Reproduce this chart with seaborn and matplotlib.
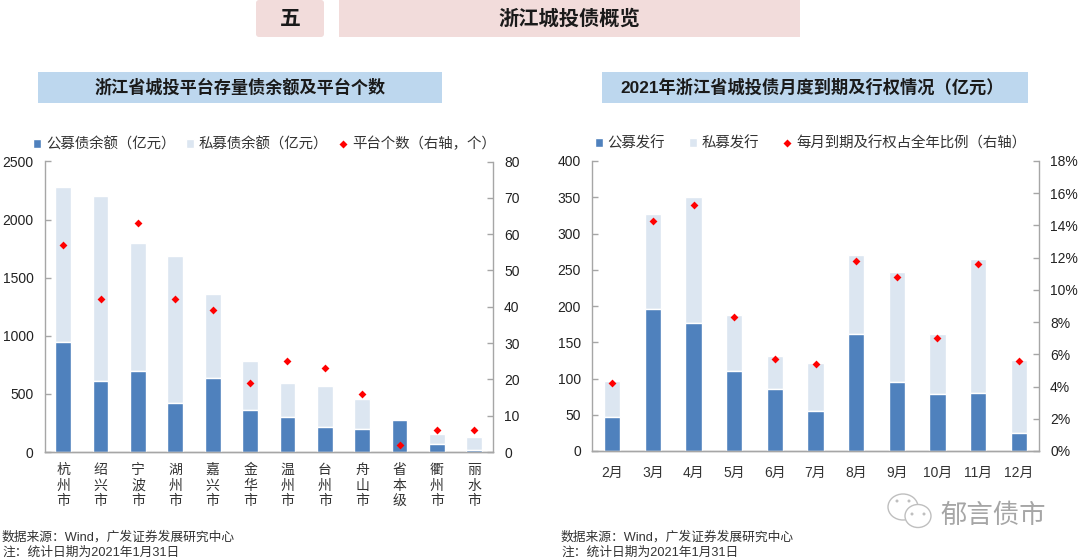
#!/usr/bin/python3

import matplotlib
matplotlib.use('Agg')
import matplotlib.pyplot as plt
from matplotlib.lines import Line2D
from matplotlib.patches import Patch, Rectangle, FancyBboxPatch, Ellipse
from matplotlib.ticker import PercentFormatter
import seaborn as sns

W, H = 1080, 559

BLUE = '#4F81BD'
PALE = '#DCE6F1'
RED = '#FF0000'
GREY = '#A6A6A6'

# left chart
cities = ['杭\n州\n市', '绍\n兴\n市', '宁\n波\n市', '湖\n州\n市', '嘉\n兴\n市', '金\n华\n市',
          '温\n州\n市', '台\n州\n市', '舟\n山\n市', '省\n本\n级', '衢\n州\n市', '丽\n水\n市']
city_public = [950, 610, 700, 425, 640, 365, 305, 215, 195, 275, 65, 20]
city_private = [1330, 1590, 1100, 1265, 720, 420, 290, 355, 260, 0, 90, 110]
city_platforms = [57, 42, 63, 42, 39, 19, 25, 23, 16, 2, 6, 6]

# right chart
months = ['2月', '3月', '4月', '5月', '6月', '7月', '8月', '9月', '10月', '11月', '12月']
month_public = [47, 196, 177, 111, 86, 55, 162, 95, 78, 80, 25]
month_private = [50, 131, 173, 77, 45, 67, 109, 152, 83, 185, 101]
month_share = [4.2, 14.3, 15.3, 8.3, 5.7, 5.4, 11.8, 10.8, 7.0, 11.6, 5.6]

source_text = '数据来源：Wind，广发证券发展研究中心'
note_text = '注：统计日期为2021年1月31日'


def px_axes(fig, x0, y0, x1, y1):
	''' axes from pixel box, y counted from the top'''
	return fig.add_axes([x0 / W, 1 - y1 / H, (x1 - x0) / W, (y1 - y0) / H])


def fig_box(fig, x0, y0, x1, y1, color, rounded=False):
	''' filled box in figure pixels'''
	if rounded:
		box = FancyBboxPatch((x0 + 3, H - y1 + 3), x1 - x0 - 6, y1 - y0 - 6,
			boxstyle='round,pad=3', facecolor=color, edgecolor='none',
			transform=None)
	else:
		box = Rectangle((x0, H - y1), x1 - x0, y1 - y0, facecolor=color,
			edgecolor='none', transform=None)
	fig.add_artist(box)


def fig_text(fig, x, y, s, **kw):
	fig.text(x / W, 1 - y / H, s, **kw)


def combo_chart(ax, labels, public, private, dots, width, dot_ylim, names, spacing, legend_x, xpad):
	''' stacked bars with red diamonds on a second axis'''
	sns.barplot(x=labels, y=public, color=BLUE, saturation=1, width=width, ax=ax, zorder=3)
	sns.barplot(x=labels, y=private, bottom=public, color=PALE, saturation=1, width=width, ax=ax, zorder=2)

	ax2 = ax.twinx()
	sns.stripplot(x=labels, y=dots, jitter=False, marker='D', size=4, color=RED,
		linewidth=0, ax=ax2, zorder=5)

	for a in (ax, ax2):
		a.set_xlim(-0.5, len(labels) - 0.5)
		a.set_xlabel('')
		a.set_ylabel('')
		a.spines['top'].set_visible(False)
		for s in ('left', 'right', 'bottom'):
			a.spines[s].set_color(GREY)
			a.spines[s].set_linewidth(1)
		a.tick_params(axis='y', direction='in', length=4, color=GREY, width=1,
			labelsize=10, pad=8, labelcolor='#222222')
		a.tick_params(axis='x', length=0, pad=xpad, labelsize=10, labelcolor='#333333')
	ax.spines['right'].set_visible(False)
	ax2.spines['left'].set_visible(False)
	ax2.set_ylim(*dot_ylim)

	handles = [Patch(facecolor=BLUE, label=names[0]), Patch(facecolor=PALE, label=names[1]),
		Line2D([], [], marker='D', color='none', markerfacecolor=RED, markeredgecolor='none',
			markersize=4.5, label=names[2])]
	ax.legend(handles=handles, ncol=3, frameon=False, loc='lower left',
		bbox_to_anchor=(legend_x, 1.035), fontsize=10.4, labelcolor='#333333',
		handlelength=0.55, handleheight=0.55, handletextpad=0.35, columnspacing=spacing,
		borderaxespad=0, borderpad=0)
	return ax2


def main():
	sns.set_theme(style='white')
	plt.rcParams['font.family'] = ['Liberation Sans', 'Noto Sans CJK SC']

	fig = plt.figure(figsize=(W / 100, H / 100), dpi=100, facecolor='white')

	# header boxes
	fig_box(fig, 256, 0, 324, 37, '#F2DCDB', rounded=True)
	fig_box(fig, 339, 0, 800, 37, '#F2DCDB')
	fig_box(fig, 38, 72, 442, 103, '#BDD7EE')
	fig_box(fig, 602, 72, 1028, 103, '#BDD7EE')
	title_kw = dict(ha='center', va='center', fontweight='bold', color='#1a1a1a')
	fig_text(fig, 290, 19, '五', fontsize=15, **title_kw)
	fig_text(fig, 569, 19, '浙江城投债概览', fontsize=14.6, **title_kw)
	fig_text(fig, 240, 87, '浙江省城投平台存量债余额及平台个数', fontsize=12.3, **title_kw)
	fig_text(fig, 812, 87, '2021年浙江省城投债月度到期及行权情况（亿元）', fontsize=12.4, **title_kw)

	# left chart
	ax1 = px_axes(fig, 44.5, 161.5, 493, 452)
	combo_chart(ax1, cities, city_public, city_private, city_platforms, 0.42, (0, 80),
		['公募债余额（亿元）', '私募债余额（亿元）', '平台个数（右轴，个）'], 0.75, -0.026, 8)
	ax1.set_ylim(0, 2500)
	ax1.set_yticks([0, 500, 1000, 1500, 2000, 2500])
	for lab in ax1.get_xticklabels():
		lab.set_linespacing(1.15)

	# right chart
	ax3 = px_axes(fig, 592, 161, 1039, 451)
	ax4 = combo_chart(ax3, months, month_public, month_private, month_share, 0.4, (0, 18),
		['公募发行', '私募发行', '每月到期及行权占全年比例（右轴）'], 1.65, 0.006, 11)
	ax3.set_ylim(0, 400)
	ax3.set_yticks(range(0, 401, 50))
	ax4.set_yticks(range(0, 19, 2))
	ax4.yaxis.set_major_formatter(PercentFormatter(decimals=0))

	# footers
	note_kw = dict(fontsize=9.2, color='#333333', va='center')
	for x in (2, 561):
		fig_text(fig, x, 537.5, source_text, **note_kw)
		fig_text(fig, x, 553, note_text, **note_kw)

	# watermark
	for cx, cy, w, h in [(903, 507, 30, 26), (918, 516, 26, 23)]:
		fig.add_artist(Ellipse((cx, H - cy), w, h, facecolor='white', edgecolor='#BFBFBF',
			linewidth=1, transform=None))
	for cx, cy in [(897, 501), (909, 501), (912, 514), (924, 514)]:
		fig.add_artist(Ellipse((cx, H - cy), 3, 3, facecolor='#BFBFBF', edgecolor='none',
			transform=None))
	fig_text(fig, 940, 515, '郁言债市', fontsize=19, color='#A6A6A6', va='center',
		fontfamily='Noto Sans CJK SC', fontweight='light')

	fig.savefig('out.png', dpi=100)


if __name__ == '__main__':
	main()
